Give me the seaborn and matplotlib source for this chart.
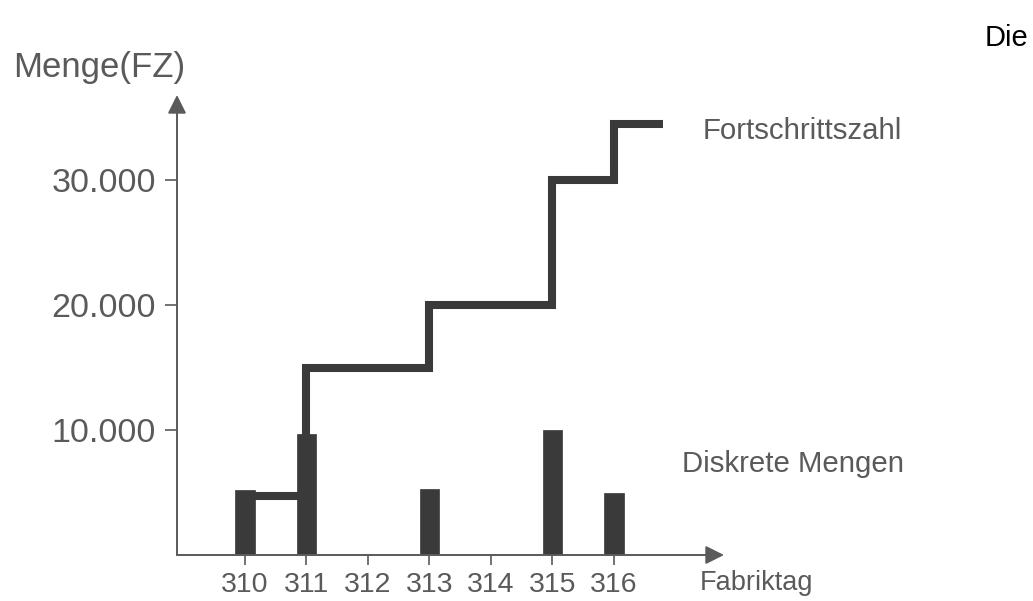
import matplotlib
matplotlib.use("Agg")
import matplotlib.pyplot as plt
import seaborn as sns
import pandas as pd
import numpy as np

# ---- data ----
days = ["310", "311", "312", "313", "314", "315", "316"]
discrete_qty = [5200, 9700, 0, 5300, 0, 10000, 5000]       # Diskrete Mengen (bars)
progress_fz = [4700, 15000, 15000, 20000, 20000, 30000, 34500]  # Fortschrittszahl (step line)
y_ticks = [10000, 20000, 30000]
y_tick_labels = ["10.000", "20.000", "30.000"]

W, H = 1033, 601
sns.set_theme(style="white")
plt.rcParams["font.family"] = ["Liberation Sans", "DejaVu Sans"]

fig = plt.figure(figsize=(W / 100, H / 100), dpi=100)
fig.patch.set_facecolor("white")

# axes box: left at the y axis, right at the x-arrow tip, bottom at x axis, top at y-arrow tip
x0_px, x1_px, y0_px, y1_px = 177, 724, 555, 95
ax = fig.add_axes([x0_px / W, 1 - y0_px / H, (x1_px - x0_px) / W, (y0_px - y1_px) / H])

df = pd.DataFrame({"Fabriktag": days, "Menge": discrete_qty})
dark = "#3a3a3a"
gray = "#5a5a5a"

sns.barplot(data=df, x="Fabriktag", y="Menge", order=days, color=dark,
            width=0.32, saturation=1, ax=ax, zorder=3,
            edgecolor=dark, linewidth=0.5)

# step line (Fortschrittszahl)
xs = list(np.arange(len(days), dtype=float)) + [len(days) - 1 + 0.8]
ys = progress_fz + [progress_fz[-1]]
ax.step(xs, ys, where="post", color=dark, lw=5.8, zorder=2,
        solid_joinstyle="miter", solid_capstyle="butt")

# limits so that tick spacing matches the reference
ax.set_xlim(-1.106, 7.79)
ax.set_ylim(0, 36800)

for s in ax.spines.values():
    s.set_visible(False)
ax.grid(False)
ax.set_facecolor("none")

# axis arrows
arrow_kw = dict(arrowstyle="-|>", color=gray, lw=1.4, mutation_scale=28,
                shrinkA=0, shrinkB=0)
ax.annotate("", xy=(0, 1), xytext=(0, 0), xycoords="axes fraction",
            arrowprops=arrow_kw, annotation_clip=False)
ax.annotate("", xy=(1, 0), xytext=(0, 0), xycoords="axes fraction",
            arrowprops=arrow_kw, annotation_clip=False)

ax.set_yticks(y_ticks)
ax.set_yticklabels(y_tick_labels)
ax.set_xticks(range(len(days)))
ax.set_xticklabels(days)
ax.set_xlabel("")
ax.set_ylabel("")
ax.tick_params(axis="y", direction="out", length=9, width=1.2, color=gray,
               pad=6, labelsize=24.5, labelcolor=gray, left=True)
ax.tick_params(axis="x", direction="out", length=7, width=1.2, color=gray,
               pad=5, labelsize=20.5, labelcolor=gray, bottom=True)

def fpos(x, y):
    return x / W, 1 - y / H

fig.text(*fpos(13, 67), "Menge(FZ)", fontsize=25, color=gray, va="center", ha="left")
fig.text(*fpos(703, 131), "Fortschrittszahl", fontsize=21.2, color=gray, va="center", ha="left")
fig.text(*fpos(682, 464), "Diskrete Mengen", fontsize=21.2, color=gray, va="center", ha="left")
fig.text(*fpos(700, 583), "Fabriktag", fontsize=19.5, color=gray, va="center", ha="left")
fig.text(*fpos(985, 38), "Die", fontsize=21, color="black", va="center", ha="left")

fig.savefig("out.png", dpi=100, facecolor="white")
